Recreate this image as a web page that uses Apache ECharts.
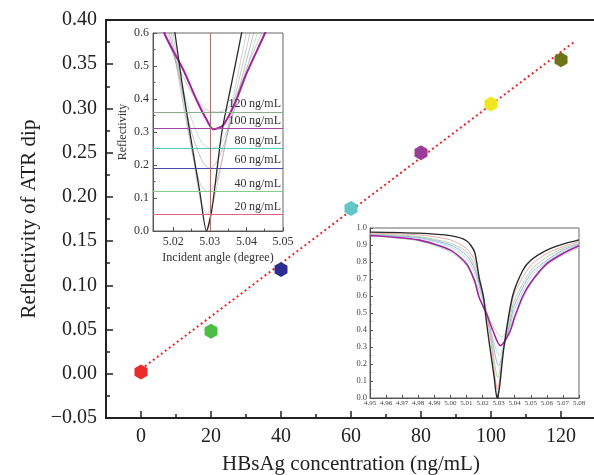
<!DOCTYPE html>
<html>
<head>
<meta charset="utf-8">
<script src="https://cdn.jsdelivr.net/npm/echarts@6/dist/echarts.min.js"></script>
<style>
  html, body { margin: 0; padding: 0; background: #fff; }
  #chart { width: 594px; height: 475px; }
</style>
</head>
<body>
<div id="chart"></div>
<script>
// main plot
const concentrations = [0, 20, 40, 60, 80, 100, 120];
const atrDip = [0.002, 0.048, 0.118, 0.187, 0.250, 0.305, 0.355];
const fitX = [0, 124];
const fitY = [0.005, 0.376];
const xTicks = [0, 20, 40, 60, 80, 100, 120];
const xMinorTicks = [10, 30, 50, 70, 90, 110];

// zoomed inset (top left)
const zoomTicks = [5.02, 5.03, 5.04, 5.05];
const zoomMinorTicks = [5.025, 5.035, 5.045];
const levelNames = ['20\u2009ng/mL', '40\u2009ng/mL', '60\u2009ng/mL', '80\u2009ng/mL', '100\u2009ng/mL', '120\u2009ng/mL'];
const levelValues = [0.048, 0.117, 0.188, 0.248, 0.309, 0.358];
const dipAngle = 5.0292;
const zoom0 = [[5.0198,0.66],[5.0205,0.6],[5.0224,0.45],[5.0244,0.31],[5.0262,0.19],[5.0273,0.117],[5.0291,0.0],[5.0305,0.06],[5.0318,0.17],[5.0333,0.30],[5.036,0.45],[5.0387,0.6],[5.0395,0.65]];
const zoom20 = [[5.019,0.68],[5.02,0.6],[5.0225,0.42],[5.0255,0.22],[5.0275,0.09],[5.0293,0.05],[5.031,0.09],[5.0335,0.22],[5.0365,0.41],[5.04,0.6],[5.041,0.66]];
const zoom40 = [[5.0185,0.68],[5.0195,0.6],[5.022,0.43],[5.025,0.25],[5.0275,0.14],[5.0295,0.12],[5.0315,0.14],[5.034,0.25],[5.037,0.41],[5.041,0.6],[5.042,0.65]];
const zoom60 = [[5.018,0.68],[5.019,0.6],[5.022,0.45],[5.025,0.30],[5.028,0.21],[5.030,0.19],[5.032,0.21],[5.035,0.30],[5.038,0.43],[5.042,0.6],[5.043,0.64]];
const zoom80 = [[5.0176,0.67],[5.0185,0.6],[5.0215,0.48],[5.025,0.34],[5.028,0.265],[5.0305,0.25],[5.033,0.265],[5.036,0.34],[5.039,0.45],[5.043,0.6],[5.044,0.64]];
const zoom100 = [[5.0172,0.63],[5.0178,0.594],[5.0228,0.488],[5.0264,0.397],[5.0292,0.336],[5.031,0.308],[5.0337,0.321],[5.0369,0.388],[5.0401,0.479],[5.0451,0.6],[5.0462,0.63]];
const zoom120 = [[5.017,0.66],[5.0178,0.6],[5.021,0.51],[5.025,0.42],[5.029,0.368],[5.032,0.36],[5.035,0.372],[5.038,0.43],[5.041,0.52],[5.045,0.62]];

// full spectrum inset (bottom right)
const fullTicks = [4.95, 4.96, 4.97, 4.98, 4.99, 5.00, 5.01, 5.02, 5.03, 5.04, 5.05, 5.06, 5.07, 5.08];
const full0 = [[4.95,0.976],[4.98,0.97],[5.0,0.955],[5.01,0.925],[5.015,0.86],[5.018,0.7],[5.0205,0.6],[5.0224,0.45],[5.0244,0.31],[5.0273,0.117],[5.029,0.0],[5.0305,0.06],[5.0333,0.3],[5.0387,0.6],[5.045,0.75],[5.05,0.81],[5.06,0.87],[5.07,0.905],[5.08,0.93]];
const full20 = [[4.95,0.97],[4.98,0.96],[5.0,0.93],[5.01,0.88],[5.015,0.81],[5.02,0.63],[5.025,0.35],[5.0293,0.05],[5.033,0.28],[5.037,0.5],[5.04,0.62],[5.05,0.78],[5.06,0.85],[5.07,0.89],[5.08,0.92]];
const full40 = [[4.95,0.965],[4.98,0.95],[5.0,0.91],[5.01,0.86],[5.015,0.78],[5.02,0.62],[5.025,0.37],[5.0295,0.12],[5.033,0.29],[5.037,0.47],[5.04,0.58],[5.05,0.75],[5.06,0.83],[5.07,0.88],[5.08,0.91]];
const full60 = [[4.95,0.96],[4.98,0.945],[5.0,0.9],[5.01,0.84],[5.015,0.76],[5.02,0.6],[5.025,0.39],[5.030,0.19],[5.034,0.32],[5.037,0.44],[5.04,0.55],[5.05,0.73],[5.06,0.81],[5.07,0.87],[5.08,0.905]];
const full80 = [[4.95,0.96],[4.98,0.94],[5.0,0.89],[5.01,0.82],[5.015,0.74],[5.02,0.59],[5.025,0.40],[5.0305,0.25],[5.034,0.33],[5.037,0.42],[5.04,0.52],[5.05,0.71],[5.06,0.8],[5.07,0.86],[5.08,0.9]];
const full100 = [[4.95,0.956],[4.98,0.93],[5.0,0.87],[5.01,0.79],[5.015,0.69],[5.0178,0.594],[5.0228,0.488],[5.0264,0.397],[5.031,0.308],[5.0369,0.388],[5.0401,0.479],[5.0451,0.6],[5.05,0.68],[5.06,0.79],[5.07,0.85],[5.08,0.895]];
const full120 = [[4.95,0.955],[4.98,0.925],[5.0,0.86],[5.01,0.78],[5.015,0.7],[5.02,0.58],[5.025,0.45],[5.032,0.36],[5.036,0.40],[5.04,0.48],[5.05,0.67],[5.06,0.78],[5.07,0.84],[5.08,0.885]];

const pointColors = ['#ee2b2b', '#4dbd45', '#2f2c8f', '#62c6c9', '#9a3c9a', '#f2e620', '#6f7318'];
const levelColors = ['#e0607a', '#86cc86', '#4a4aa8', '#4cc8b8', '#a444a4', '#88b088'];
const serif = 'Liberation Serif, DejaVu Serif, serif';
const hexagon = 'path://M0,-1 L0.866,-0.5 L0.866,0.5 L0,1 L-0.866,0.5 L-0.866,-0.5 Z';

const chart = echarts.init(document.getElementById('chart'), null, { renderer: 'canvas' });

const lineOf = (data, color, width, xi, yi, z) => ({
    type: 'line',
    xAxisIndex: xi,
    yAxisIndex: yi,
    data: data,
    smooth: 0.25,
    symbol: 'none',
    z: z || 3,
    lineStyle: { color: color, width: width },
    silent: true
});

const levelSeries = levelValues.map((v, i) => ({
    type: 'line',
    xAxisIndex: 2,
    yAxisIndex: 1,
    data: [],
    z: 2,
    markLine: {
        silent: true,
        symbol: 'none',
        animation: false,
        data: [{ yAxis: v }],
        lineStyle: { color: levelColors[i], width: 1, type: 'solid' },
        label: {
            show: true,
            position: 'insideEndTop',
            distance: 2,
            formatter: levelNames[i],
            fontFamily: serif,
            fontSize: 12,
            color: '#333'
        }
    }
}));

const option = {
    animation: false,
    backgroundColor: '#fff',
    grid: [
        { left: 106, top: 20, width: 490, height: 398, outerBoundsMode: 'none', containLabel: false, show: true, backgroundColor: '#fff', borderColor: '#222', borderWidth: 2 },
        { left: 153, top: 33, width: 130, height: 198, outerBoundsMode: 'none', containLabel: false, show: true, backgroundColor: '#fff', borderColor: '#666', borderWidth: 1 },
        { left: 370, top: 228, width: 209, height: 170, outerBoundsMode: 'none', containLabel: false, show: true, backgroundColor: '#fff', borderColor: '#666', borderWidth: 1 }
    ],
    xAxis: [
        {
            gridIndex: 0, type: 'value', min: -10, max: 130,
            name: 'HBsAg concentration (ng/mL)', nameLocation: 'middle', nameGap: 36,
            nameTextStyle: { fontFamily: serif, fontSize: 21, color: '#222' },
            axisLine: { show: true, onZero: false, lineStyle: { color: '#222', width: 2 } },
            axisTick: { show: true, inside: true, length: 7, customValues: xTicks, lineStyle: { color: '#222', width: 1.5 } },
            axisLabel: { customValues: xTicks, margin: 9, fontFamily: serif, fontSize: 20, color: '#222' },
            splitLine: { show: false }
        },
        {
            gridIndex: 0, type: 'value', min: -10, max: 130, position: 'bottom',
            axisLine: { show: false, onZero: false },
            axisTick: { show: true, inside: true, length: 4, customValues: xMinorTicks, lineStyle: { color: '#222', width: 1.5 } },
            axisLabel: { show: false },
            splitLine: { show: false }
        },
        {
            gridIndex: 1, type: 'value', min: 5.0145, max: 5.05,
            name: 'Incident angle (degree)', nameLocation: 'middle', nameGap: 21,
            nameTextStyle: { fontFamily: serif, fontSize: 12, color: '#333' },
            axisLine: { show: true, onZero: false, lineStyle: { color: '#555', width: 1 } },
            axisTick: { show: true, inside: true, length: 4, customValues: zoomTicks, lineStyle: { color: '#555' } },
            axisLabel: { customValues: zoomTicks, margin: 5, fontFamily: serif, fontSize: 12, color: '#333', formatter: v => v.toFixed(2) },
            splitLine: { show: false }
        },
        {
            gridIndex: 1, type: 'value', min: 5.0145, max: 5.05, position: 'bottom',
            axisLine: { show: false, onZero: false },
            axisTick: { show: true, inside: true, length: 2.5, customValues: zoomMinorTicks, lineStyle: { color: '#555' } },
            axisLabel: { show: false },
            splitLine: { show: false }
        },
        {
            gridIndex: 2, type: 'value', min: 4.95, max: 5.08,
            axisLine: { show: true, onZero: false, lineStyle: { color: '#555', width: 1 } },
            axisTick: { show: true, inside: true, length: 3, customValues: fullTicks, lineStyle: { color: '#555' } },
            axisLabel: { customValues: fullTicks, margin: 2, fontFamily: serif, fontSize: 7, color: '#444', formatter: v => v.toFixed(2) },
            splitLine: { show: false }
        }
    ],
    yAxis: [
        {
            gridIndex: 0, type: 'value', min: -0.05, max: 0.40, interval: 0.05,
            name: 'Reflectivity of ATR dip', nameLocation: 'middle', nameGap: 58,
            nameTextStyle: { fontFamily: serif, fontSize: 21, color: '#222' },
            axisLine: { show: true, onZero: false, lineStyle: { color: '#222', width: 2 } },
            axisTick: { show: true, inside: true, length: 7, lineStyle: { color: '#222', width: 1.5 } },
            minorTick: { show: true, splitNumber: 2, length: 4, lineStyle: { color: '#222', width: 1.5 } },
            axisLabel: {
                margin: 9, fontFamily: serif, fontSize: 20, color: '#222',
                formatter: v => (v < -1e-9 ? '\u2212' + Math.abs(v).toFixed(2) : Math.abs(v).toFixed(2))
            },
            splitLine: { show: false }
        },
        {
            gridIndex: 1, type: 'value', min: 0, max: 0.6, interval: 0.1,
            name: 'Reflectivity', nameLocation: 'middle', nameGap: 24,
            nameTextStyle: { fontFamily: serif, fontSize: 12, color: '#333' },
            axisLine: { show: true, onZero: false, lineStyle: { color: '#555', width: 1 } },
            axisTick: { show: true, inside: true, length: 4, lineStyle: { color: '#555' } },
            minorTick: { show: true, splitNumber: 2, length: 2.5, lineStyle: { color: '#555' } },
            axisLabel: { margin: 4, fontFamily: serif, fontSize: 12, color: '#333', formatter: v => v.toFixed(1) },
            splitLine: { show: false }
        },
        {
            gridIndex: 2, type: 'value', min: 0, max: 1, interval: 0.1,
            axisLine: { show: true, onZero: false, lineStyle: { color: '#555', width: 1 } },
            axisTick: { show: true, inside: true, length: 3, lineStyle: { color: '#555' } },
            minorTick: { show: true, splitNumber: 2, length: 1.5, lineStyle: { color: '#555' } },
            axisLabel: { margin: 3, fontFamily: serif, fontSize: 8.5, color: '#444', formatter: v => v.toFixed(1) },
            splitLine: { show: false }
        }
    ],
    series: [
        {
            type: 'line',
            xAxisIndex: 0, yAxisIndex: 0,
            data: fitX.map((x, i) => [x, fitY[i]]),
            symbol: 'none',
            z: 2,
            lineStyle: { color: '#e8262a', width: 2, type: [2, 3] }
        },
        {
            type: 'scatter',
            xAxisIndex: 0, yAxisIndex: 0,
            symbol: hexagon,
            symbolSize: [13, 15],
            z: 4,
            itemStyle: { opacity: 1 },
            data: concentrations.map((c, i) => ({ value: [c, atrDip[i]], itemStyle: { color: pointColors[i], opacity: 1 } }))
        },
        // zoomed inset
        ...levelSeries,
        {
            type: 'line', xAxisIndex: 2, yAxisIndex: 1, data: [], z: 2,
            markLine: {
                silent: true, symbol: 'none', animation: false, label: { show: false },
                data: [{ xAxis: dipAngle }],
                lineStyle: { color: '#b07070', width: 1, type: 'solid' }
            }
        },
        lineOf(zoom120, 'rgba(150,180,150,0.6)', 1, 2, 1),
        lineOf(zoom80, 'rgba(160,200,190,0.6)', 1, 2, 1),
        lineOf(zoom60, 'rgba(150,150,150,0.6)', 1, 2, 1),
        lineOf(zoom40, 'rgba(160,160,160,0.55)', 1, 2, 1),
        lineOf(zoom20, 'rgba(170,170,170,0.55)', 1, 2, 1),
        lineOf(zoom100, '#a3229d', 2, 2, 1, 4),
        lineOf(zoom0, '#2a2a2a', 1.3, 2, 1, 4),
        // full spectrum inset
        lineOf(full120, '#b7dcb7', 1, 4, 2),
        lineOf(full80, '#a8e0dc', 1, 4, 2),
        lineOf(full60, '#a9a9e6', 1, 4, 2),
        lineOf(full40, '#a6d8a6', 1, 4, 2),
        lineOf(full20, '#f0a8a8', 1, 4, 2),
        lineOf(full100, '#a3229d', 1.6, 4, 2, 4),
        lineOf(full0, '#2a2a2a', 1.4, 4, 2, 4)
    ]
};

chart.setOption(option);
</script>
</body>
</html>
